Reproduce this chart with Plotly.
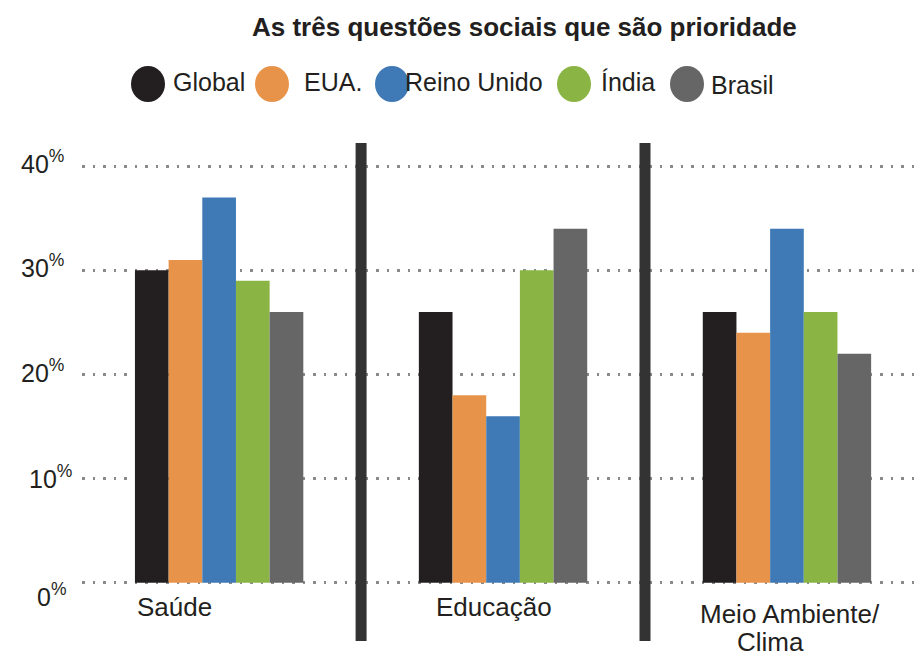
import plotly.graph_objects as go

# Data
categories = ["Saúde", "Educação", "Meio Ambiente/<br>Clima"]
series_names = ["Global", "EUA.", "Reino Unido", "Índia", "Brasil"]
global_vals = [30, 26, 26]
eua_vals = [31, 18, 24]
reino_unido_vals = [37, 16, 34]
india_vals = [29, 30, 26]
brasil_vals = [26, 34, 22]
y_ticks = [0, 10, 20, 30, 40]

series_values = [global_vals, eua_vals, reino_unido_vals, india_vals, brasil_vals]
colors = ["#231f20", "#e8934a", "#3f7ab6", "#8ab443", "#666666"]

W, H = 920, 658
ML, MR, MT, MB = 82, 5, 161, 70
PW, PH = W - ML - MR, H - MT - MB

FONT = "Liberation Sans, Arial, sans-serif"


def px_x(p):
    return (p - ML) / PW


def px_y(p):
    return (H - MB - p) / PH


xpos = list(range(len(categories)))

fig = go.Figure()
for name, vals, col in zip(series_names, series_values, colors):
    fig.add_trace(go.Bar(x=xpos, y=vals, name=name, marker=dict(color=col, line=dict(width=0)),
                         showlegend=False))

fig.update_layout(
    width=W, height=H,
    margin=dict(l=ML, r=MR, t=MT, b=MB),
    paper_bgcolor="white", plot_bgcolor="white",
    barmode="group", bargap=0.407, bargroupgap=0,
    font=dict(family=FONT, color="#231f20"),
    showlegend=False,
    xaxis=dict(range=[-0.483, 2.451], showgrid=False, zeroline=False, showticklabels=False,
               showline=False, ticks=""),
    yaxis=dict(range=[-0.5, 40.5], tickvals=y_ticks, showticklabels=False, showgrid=True,
               gridcolor="#8a8a8a", gridwidth=2.5, griddash="2.5px,8px", zeroline=False,
               showline=False, ticks=""),
)

# Title
fig.add_annotation(text="<b>As três questões sociais que são prioridade</b>", xref="paper", yref="paper",
                   x=px_x(524), y=px_y(27), xanchor="center", yanchor="middle", showarrow=False,
                   font=dict(size=26, family=FONT, color="#231f20"))

# Legend drawn as round swatches with labels
leg_circle_x = [148, 272, 392, 574, 687]
leg_text_x = [171, 302, 403, 599, 709]
leg_text_y = [82, 82, 82, 82, 85]
for name, col, cx, tx, ty in zip(series_names, colors, leg_circle_x, leg_text_x, leg_text_y):
    fig.add_shape(type="circle", xref="paper", yref="paper",
                  x0=px_x(cx - 17), x1=px_x(cx + 17), y0=px_y(84 + 18), y1=px_y(84 - 18),
                  fillcolor=col, line=dict(width=0), layer="above")
    fig.add_annotation(text=name, xref="paper", yref="paper", x=px_x(tx), y=px_y(ty),
                       xanchor="left", yanchor="middle", showarrow=False,
                       font=dict(size=25, family=FONT, color="#231f20"))

# Y tick labels with superscript percent sign
tick_shift_x = {0: -14, 10: -8, 20: -16, 30: -16, 40: -16}
tick_shift_y = {0: -12, 10: 2, 20: 4, 30: 4, 40: 4}
for t in y_ticks:
    fig.add_annotation(text=f"{t}<sup>%</sup>", xref="paper", yref="y", x=0, y=t,
                       xanchor="right", yanchor="middle", showarrow=False,
                       xshift=tick_shift_x[t], yshift=tick_shift_y[t],
                       font=dict(size=25, family=FONT, color="#231f20"))

# Category separators
for sx in [0.5, 1.5]:
    fig.add_shape(type="line", xref="x", yref="paper", x0=sx, x1=sx,
                  y0=px_y(641), y1=px_y(143), line=dict(color="#333333", width=11), layer="above")

# Category labels under each group
cat_label_x = [-0.296, -0.243, -0.314]
for i, (cat, lx) in enumerate(zip(categories, cat_label_x)):
    if "<br>" in cat:
        first, second = cat.split("<br>")
        fig.add_annotation(text=first, xref="x", yref="paper", x=i + lx, y=px_y(614),
                           xanchor="left", yanchor="middle", showarrow=False,
                           font=dict(size=26, family=FONT, color="#231f20"))
        fig.add_annotation(text=second, xref="x", yref="paper", x=i - 0.183, y=px_y(642),
                           xanchor="left", yanchor="middle", showarrow=False,
                           font=dict(size=26, family=FONT, color="#231f20"))
    else:
        fig.add_annotation(text=cat, xref="x", yref="paper", x=i + lx, y=px_y(607),
                           xanchor="left", yanchor="middle", showarrow=False,
                           font=dict(size=26, family=FONT, color="#231f20"))

fig.write_html("out.html")
